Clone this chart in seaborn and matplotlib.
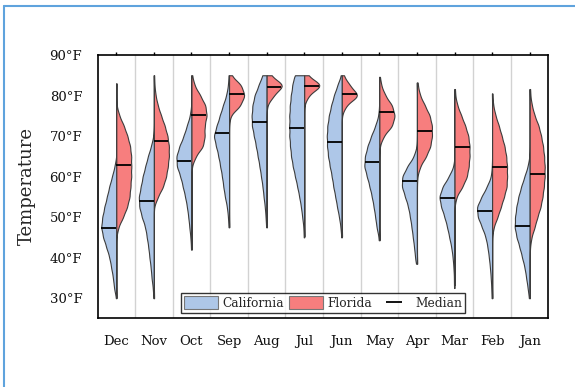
import numpy as np
import pandas as pd
import matplotlib
matplotlib.use("Agg")
import matplotlib.pyplot as plt
import seaborn as sns
from matplotlib.patches import Patch
from matplotlib.lines import Line2D

# ---------------- data ----------------
months = ["Dec", "Nov", "Oct", "Sep", "Aug", "Jul", "Jun", "May", "Apr", "Mar", "Feb", "Jan"]
states = ["California", "Florida"]
ytick_vals = [30, 40, 50, 60, 70, 80, 90]
ytick_labels = ["30°F", "40°F", "50°F", "60°F", "70°F", "80°F", "90°F"]

# temperature levels at which the relative density (violin half width) was read
temp_grid = [30.0, 32.5, 35.0, 37.5, 40.0, 42.5, 45.0, 47.5, 50.0, 52.5, 55.0, 57.5,
             60.0, 62.5, 65.0, 67.5, 70.0, 72.5, 75.0, 77.5, 80.0, 82.5, 85.0]

ca_dec = [0, 2.3, 3.3, 5, 6.7, 9.7, 13, 15, 13.7, 11.7, 9.3, 7, 4.3, 1.7, 0, 0, 0, 0, 0, 0, 0, 0, 0]
ca_nov = [0.3, 1, 2.3, 3, 4.3, 5.3, 6.7, 8.3, 11.5, 14, 14.5, 12.5, 10.7, 8.3, 5.7, 2.7, 0.5, 0, 0, 0, 0, 0, 0]
ca_oct = [0, 0, 0, 0, 0, 0.3, 1, 2, 3, 4.3, 6, 8.3, 10.5, 14, 14.5, 11.5, 7.5, 4.5, 1.5, 0.3, 0, 0, 0]
ca_sep = [0, 0, 0, 0, 0, 0, 0, 0.3, 1, 2, 4, 5.5, 6.7, 8.5, 10.3, 12.5, 15, 12, 9, 6, 2.7, 1, 0.3]
ca_aug = [0, 0, 0, 0, 0, 0, 0, 0.3, 1, 1.7, 3, 4, 5.5, 7, 8.7, 10.5, 12.5, 14.5, 14.7, 14, 12, 8, 4]
ca_jul = [0, 0, 0, 0, 0, 0, 0.3, 0.8, 2, 3.3, 5, 7, 9.3, 11.5, 13.3, 14.3, 15, 15, 15, 14.5, 13.5, 12, 10]
ca_jun = [0, 0, 0, 0, 0, 0, 0.3, 1.3, 2.7, 4.7, 6.5, 8.5, 10, 12, 13.7, 14.8, 15, 14.5, 13, 10.7, 8, 4.5, 0.5]
ca_may = [0, 0, 0, 0, 0, 0, 0.5, 2.7, 4, 5.5, 7.3, 9.5, 12, 14.8, 14, 11.5, 8, 4, 1, 0.2, 0, 0, 0]
ca_apr = [0, 0, 0, 0, 1.7, 2.8, 4, 5.3, 6.7, 8.5, 11.5, 14.7, 14.5, 9.5, 3, 0.3, 0, 0, 0, 0, 0, 0, 0]
ca_mar = [0, 0.3, 0.6, 1, 1.8, 3, 5, 7, 9.5, 12.7, 14.7, 11.5, 5.5, 1, 0, 0, 0, 0, 0, 0, 0, 0, 0]
ca_feb = [0.2, 0.7, 1.3, 2, 3, 4.3, 6, 9.5, 13.5, 14.5, 10, 5, 1, 0.2, 0, 0, 0, 0, 0, 0, 0, 0, 0]
ca_jan = [0.5, 2, 3.5, 5, 7.5, 10, 13, 15, 14.5, 13.3, 11.3, 8.5, 5.3, 2, 0.3, 0, 0, 0, 0, 0, 0, 0, 0]

fl_dec = [0, 0, 0, 0, 0, 0, 0, 1.7, 6.3, 10, 12.3, 13, 13.7, 13.7, 13.7, 12.7, 10.3, 7, 2.7, 0.3, 0, 0, 0]
fl_nov = [0, 0, 0, 0, 0, 0, 0, 0, 0, 0, 3.5, 8.3, 11, 12.5, 13.5, 13.5, 12.3, 9.7, 6.5, 3.5, 1.5, 0.5, 0]
fl_oct = [0, 0, 0, 0, 0, 0, 0, 0, 0, 0, 0, 0, 0, 0.3, 3.5, 10, 11.3, 11, 13, 12, 7.5, 2.5, 0.3]
fl_sep = [0, 0, 0, 0, 0, 0, 0, 0, 0, 0, 0, 0, 0, 0, 0, 0, 0, 0, 1, 10, 14, 11, 1.5]
fl_aug = [0, 0, 0, 0, 0, 0, 0, 0, 0, 0, 0, 0, 0, 0, 0, 0, 0, 0, 0, 0.3, 5, 13, 2.5]
fl_jul = [0, 0, 0, 0, 0, 0, 0, 0, 0, 0, 0, 0, 0, 0, 0, 0, 0, 0, 0, 0, 3, 14, 2]
fl_jun = [0, 0, 0, 0, 0, 0, 0, 0, 0, 0, 0, 0, 0, 0, 0, 0, 0, 0, 0, 3, 13.5, 6, 1]
fl_may = [0, 0, 0, 0, 0, 0, 0, 0, 0, 0, 0, 0, 0, 0, 0, 0.3, 3.5, 11, 13.3, 11, 5, 1.5, 0]
fl_apr = [0, 0, 0, 0, 0, 0, 0, 0, 0, 0, 0, 0, 0.3, 2.5, 7.5, 11, 12.2, 12.3, 10.5, 6.5, 2.5, 0.5, 0]
fl_mar = [0, 0, 0, 0, 0, 0, 0, 0, 0, 0, 1.5, 7, 11, 12.5, 13.2, 13.3, 12.3, 9.5, 6, 2.5, 0.5, 0, 0]
fl_feb = [0, 0, 0, 0, 0, 0, 0, 1.3, 4.7, 7.7, 10.5, 13, 13.3, 13.3, 12.5, 11, 8.5, 6, 3, 1, 0, 0, 0]
fl_jan = [0, 0, 0, 0, 0, 0.2, 1.5, 4.5, 7, 10, 11.7, 13, 13.7, 13.7, 13.3, 12.2, 10.5, 8.3, 4.5, 2, 0.5, 0, 0]

# observed extremes of each month (bottom and top of the violin's centre line, °F)
range_low = [30, 30, 42, 47.5, 47.5, 45.2, 45.2, 44.3, 38.5, 33.2, 30, 30]
range_high = [83, 85, 85, 85, 85, 85, 85, 84.6, 83.2, 81.6, 80.5, 81.6]

# medians
ca_median = [47.3, 53.9, 63.9, 70.7, 73.5, 72.1, 68.6, 63.7, 58.8, 54.7, 51.6, 47.8]
fl_median = [62.9, 68.7, 75.2, 80.3, 82.0, 82.4, 80.3, 76.0, 71.3, 67.2, 62.4, 60.6]

ca_profiles = [ca_dec, ca_nov, ca_oct, ca_sep, ca_aug, ca_jul, ca_jun, ca_may, ca_apr, ca_mar, ca_feb, ca_jan]
fl_profiles = [fl_dec, fl_nov, fl_oct, fl_sep, fl_aug, fl_jul, fl_jun, fl_may, fl_apr, fl_mar, fl_feb, fl_jan]

# ---------------- build observation table ----------------
frames = []
grid = np.asarray(temp_grid)
for i, m in enumerate(months):
    for state, prof in ((states[0], ca_profiles[i]), (states[1], fl_profiles[i])):
        counts = np.rint(np.asarray(prof, dtype=float) * 4).astype(int)
        vals = np.concatenate([np.repeat(grid, counts), [range_low[i], range_high[i]]])
        frames.append(pd.DataFrame({"month": m, "state": state, "temp": vals}))
df = pd.concat(frames, ignore_index=True)

SIGMA = 1.3


def fixed_bw(kde):
    return SIGMA / np.std(kde.dataset, ddof=1)


# ---------------- style ----------------
sns.set_theme(style="white")
plt.rcParams["font.family"] = ["DejaVu Serif"]
blue = "#aec7e8"
red = "#f77e7e"
edge = "#3c3c3c"

fig = plt.figure(figsize=(5.75, 3.87), dpi=100)
ax = fig.add_axes([0.1696, 0.1783, 0.7843, 0.6796])

sns.violinplot(data=df, x="month", y="temp", hue="state", order=months, hue_order=states,
               split=True, inner=None, cut=0, density_norm="width", common_norm=False,
               palette={states[0]: blue, states[1]: red}, saturation=1,
               linewidth=0.8, linecolor=edge, bw_method=fixed_bw, width=0.8,
               legend=False, ax=ax, zorder=2)

# median lines spanning each half violin
meds = {(i, 0): ca_median[i] for i in range(len(months))}
meds.update({(i, 1): fl_median[i] for i in range(len(months))})
for coll in list(ax.collections):
    paths = coll.get_paths()
    if not paths:
        continue
    v = paths[0].vertices
    xs, ys = v[:, 0], v[:, 1]
    pos = int(round((xs.min() + xs.max()) / 2))
    side = 0 if abs(xs.max() - pos) < 1e-6 else 1
    key = (pos, side)
    if key not in meds:
        continue
    mval = meds[key]
    mask = np.abs(xs - pos) > 1e-9
    cx, cy = xs[mask], ys[mask]
    order = np.argsort(cy)
    xe = np.interp(mval, cy[order], cx[order])
    ax.plot([xe, pos], [mval, mval], color="black", lw=1.3, zorder=4, solid_capstyle="butt")

ax.set_xlim(-0.5, len(months) - 0.5)
ax.set_ylim(25.1, 90)
ax.set_yticks(ytick_vals)
ax.set_yticklabels(ytick_labels)
ax.set_xticks(range(len(months)))
ax.set_xticklabels(months)
ax.set_xticks(np.arange(0.5, len(months) - 0.5, 1), minor=True)
ax.grid(False)
ax.grid(True, which="minor", axis="x", color="#d2d2d2", lw=1)
ax.set_axisbelow(True)
ax.set_xlabel("")
ax.set_ylabel("Temperature", fontsize=13)
ax.yaxis.set_label_coords(-0.136, 0.5)

ax.tick_params(axis="y", which="major", direction="out", length=6, width=1,
               color="black", labelsize=9.5, labelcolor="#111111", pad=5)
ax.tick_params(axis="x", which="major", direction="out", length=5, width=1,
               color="black", labelsize=9.5, labelcolor="#111111", pad=7)
ax.tick_params(axis="x", which="minor", length=0)
for sp in ax.spines.values():
    sp.set_color("black")
    sp.set_linewidth(1.2)

top = ax.secondary_xaxis("top")
top.set_xticks(range(len(months)))
top.tick_params(length=2.5, width=1, labeltop=False, color="black")
top.spines["top"].set_visible(False)

handles = [Patch(facecolor=blue, edgecolor="#777777", lw=0.8, label="California"),
           Patch(facecolor=red, edgecolor="#777777", lw=0.8, label="Florida"),
           Line2D([], [], color="black", marker="_", markersize=11, markeredgewidth=1.3,
                  linestyle="None", label="Median")]
leg = ax.legend(handles=handles, ncol=3, loc="lower center", frameon=True, fancybox=False,
                fontsize=8.8, handlelength=2.8, handleheight=1.25, handletextpad=0.35,
                columnspacing=0.4, borderaxespad=0.4, borderpad=0.25)
leg.get_frame().set_edgecolor("black")
leg.get_frame().set_linewidth(1)

# outer frame of the figure
fig.add_artist(Line2D([3.5 / 575, 1], [1 - 5.5 / 387, 1 - 5.5 / 387],
                      transform=fig.transFigure, color="#5fa3dd", lw=1.5))
fig.add_artist(Line2D([3.5 / 575, 3.5 / 575], [0, 1 - 5.5 / 387],
                      transform=fig.transFigure, color="#5fa3dd", lw=1.5))

fig.savefig("out.png", dpi=100)
